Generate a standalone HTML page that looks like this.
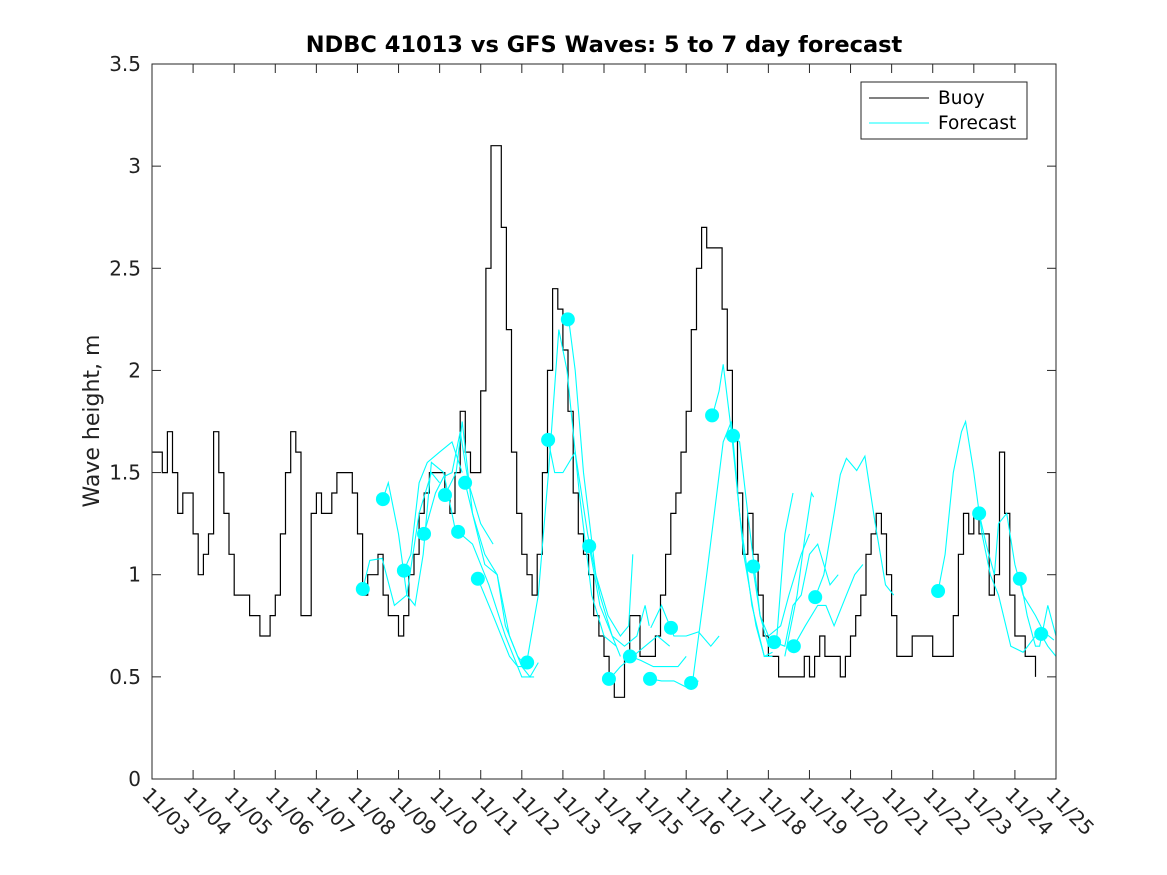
<!DOCTYPE html>
<html><head><meta charset="utf-8"><style>
html,body{margin:0;padding:0;background:#fff}
svg{display:block;font-family:"DejaVu Sans","Liberation Sans",sans-serif}
</style></head><body>
<svg id="chart" width="1167" height="875" viewBox="0 0 1167 875">
<rect x="0" y="0" width="1167" height="875" fill="#fff"/>
<text x="604" y="52" text-anchor="middle" font-size="22.5" font-weight="bold" fill="#000">NDBC 41013 vs GFS Waves: 5 to 7 day forecast</text>
<text transform="translate(99,421) rotate(-90)" text-anchor="middle" font-size="22" fill="#222">Wave height, m</text>
<g id="grid"></g>
<g id="series"></g>
<rect x="152" y="64" width="904" height="715" fill="none" stroke="#262626" stroke-width="1"/>
<g id="legend">
<rect x="861" y="82" width="166" height="57" fill="#fff" stroke="#262626" stroke-width="1"/>
<line x1="869" y1="98" x2="929" y2="98" stroke="#000" stroke-width="1"/>
<text x="938" y="104" font-size="18.5" fill="#000">Buoy</text>
<line x1="869" y1="123" x2="929" y2="123" stroke="#00ffff" stroke-width="1"/>
<text x="938" y="129" font-size="18.5" fill="#000">Forecast</text>
</g>
</svg>
<script>
const xTickLabels = ["11/03","11/04","11/05","11/06","11/07","11/08","11/09","11/10","11/11","11/12","11/13","11/14","11/15","11/16","11/17","11/18","11/19","11/20","11/21","11/22","11/23","11/24","11/25"];
const yTicks = [0,0.5,1,1.5,2,2.5,3,3.5];
const yTickLabels = ["0","0.5","1","1.5","2","2.5","3","3.5"];
const buoyStep = 0.125;
const buoyValues = [1.6,1.6,1.5,1.7,1.5,1.3,1.4,1.4,1.2,1.0,1.1,1.2,1.7,1.5,1.3,1.1,0.9,0.9,0.9,0.8,0.8,0.7,0.7,0.8,0.9,1.2,1.5,1.7,1.6,0.8,0.8,1.3,1.4,1.3,1.3,1.4,1.5,1.5,1.5,1.4,1.2,0.9,1.0,1.0,1.1,0.9,0.8,0.8,0.7,0.8,1.0,1.1,1.3,1.4,1.5,1.5,1.5,1.4,1.3,1.5,1.8,1.6,1.5,1.5,1.9,2.5,3.1,3.1,2.7,2.2,1.6,1.3,1.1,1.0,0.9,1.1,1.5,2.0,2.4,2.3,2.1,1.8,1.4,1.2,1.1,1.0,0.8,0.7,0.6,0.5,0.4,0.4,0.6,0.8,0.8,0.6,0.6,0.6,0.7,0.9,1.1,1.3,1.4,1.6,1.8,2.2,2.5,2.7,2.6,2.6,2.6,2.3,2.0,1.7,1.4,1.1,1.3,1.1,0.9,0.7,0.6,0.6,0.5,0.5,0.5,0.5,0.5,0.6,0.5,0.6,0.7,0.6,0.6,0.6,0.5,0.6,0.7,0.8,0.9,1.1,1.2,1.3,1.2,1.0,0.8,0.6,0.6,0.6,0.7,0.7,0.7,0.7,0.6,0.6,0.6,0.6,0.8,1.1,1.3,1.2,1.3,1.2,1.2,0.9,1.0,1.6,1.3,0.9,0.7,0.7,0.6,0.6,0.5];
const dotDays = [5.13,5.62,6.13,6.62,7.13,7.62,7.45,7.93,9.13,9.64,10.12,10.64,11.12,11.63,12.12,12.63,13.12,13.63,14.14,14.63,15.14,15.62,16.14,19.13,20.13,21.12,21.64];
const dotValues = [0.93,1.37,1.02,1.2,1.39,1.45,1.21,0.98,0.57,1.66,2.25,1.14,0.49,0.6,0.49,0.74,0.47,1.78,1.68,1.04,0.67,0.65,0.89,0.92,1.3,0.98,0.71];
const forecastRuns = [
 [[5.13,0.93],[5.3,1.07],[5.6,1.08],[5.9,0.85],[6.2,0.9],[6.5,1.3],[6.8,1.5],[7.0,1.45]],
 [[5.62,1.37],[5.75,1.45],[6.0,1.2],[6.2,0.9],[6.4,0.85],[6.6,1.1],[6.8,1.55],[7.1,1.5],[7.4,1.2]],
 [[6.13,1.02],[6.3,1.1],[6.5,1.45],[6.7,1.55],[7.0,1.6],[7.3,1.65],[7.55,1.5]],
 [[6.62,1.2],[6.9,1.4],[7.1,1.48],[7.3,1.5],[7.5,1.7],[7.7,1.45],[8.0,1.25],[8.3,1.15]],
 [[7.13,1.39],[7.4,1.5],[7.55,1.75],[7.8,1.3],[8.1,1.1],[8.4,1.0],[8.6,0.75],[8.9,0.6],[9.1,0.55]],
 [[7.62,1.45],[7.8,1.3],[8.1,1.05],[8.4,1.0],[8.7,0.7],[9.0,0.55],[9.2,0.5],[9.4,0.57]],
 [[7.45,1.21],[7.8,1.15],[8.2,0.95],[8.6,0.7],[9.0,0.5],[9.3,0.5]],
 [[7.93,0.98],[8.3,0.8],[8.7,0.6],[8.9,0.55],[9.2,0.55]],
 [[9.12,0.57],[9.4,0.9],[9.65,1.5],[9.9,2.2],[10.1,2.0],[10.4,1.4],[10.7,0.9],[11.0,0.7],[11.3,0.65]],
 [[9.64,1.66],[9.8,1.5],[10.0,1.5],[10.3,1.6],[10.6,1.2],[10.9,0.9],[11.2,0.7],[11.4,0.6]],
 [[10.14,2.25],[10.3,2.0],[10.5,1.5],[10.8,1.0],[11.1,0.8],[11.4,0.7],[11.6,0.75],[11.7,1.1]],
 [[10.64,1.14],[10.9,0.85],[11.2,0.7],[11.5,0.65],[11.8,0.7],[12.0,0.85],[12.1,0.75]],
 [[11.14,0.49],[11.4,0.55],[11.7,0.6],[12.0,0.65],[12.3,0.7],[12.6,0.65]],
 [[11.64,0.6],[11.9,0.58],[12.2,0.55],[12.5,0.55],[12.8,0.55],[13.0,0.6]],
 [[12.14,0.49],[12.4,0.48],[12.7,0.48],[13.0,0.45],[13.3,0.48]],
 [[12.14,0.74],[12.4,0.85],[12.7,0.7],[13.0,0.7],[13.3,0.72],[13.6,0.65],[13.8,0.7]],
 [[13.14,0.45],[13.5,1.0],[13.9,1.65],[14.1,1.75],[14.3,1.3],[14.6,0.85],[14.9,0.6],[15.1,0.62]],
 [[13.64,1.78],[13.8,1.9],[13.9,2.03],[14.1,1.7],[14.4,1.1],[14.7,0.75],[14.9,0.6],[15.1,0.6]],
 [[14.13,1.68],[14.3,1.65],[14.5,1.3],[14.8,0.8],[15.0,0.65],[15.2,0.68],[15.4,1.2],[15.6,1.4]],
 [[14.62,1.04],[14.8,0.8],[15.0,0.7],[15.3,0.75],[15.5,0.9],[15.8,1.1],[16.0,1.2]],
 [[15.14,0.67],[15.4,0.65],[15.6,0.85],[15.8,0.9],[16.0,1.1],[16.2,1.15],[16.5,0.95],[16.7,1.0]],
 [[15.62,0.65],[15.9,0.75],[16.2,0.85],[16.4,0.85],[16.6,0.75],[16.9,0.9],[17.1,1.0],[17.3,1.05]],
 [[16.14,0.89],[16.35,1.0],[16.6,1.3],[16.75,1.49],[16.9,1.57],[17.15,1.51],[17.35,1.58],[17.6,1.25],[17.85,0.95],[18.05,0.9]],
 [[15.4,0.6],[15.7,0.9],[15.9,1.2],[16.05,1.4],[16.1,1.38]],
 [[19.13,0.92],[19.3,1.1],[19.5,1.5],[19.7,1.7],[19.8,1.75],[20.0,1.5],[20.2,1.2],[20.4,1.0],[20.6,0.9],[20.9,0.65],[21.2,0.62],[21.5,0.7]],
 [[20.13,1.3],[20.3,1.15],[20.5,1.0],[20.6,1.25],[20.8,1.3],[21.0,1.05],[21.2,0.9],[21.5,0.8],[21.7,0.72],[21.95,0.68]],
 [[21.13,0.98],[21.3,0.8],[21.5,0.65],[21.6,0.65],[21.8,0.85],[22.0,0.7]],
 [[21.63,0.71],[21.8,0.65],[22.0,0.6]]
];

const NS = "http://www.w3.org/2000/svg";
const X0 = 152, X1 = 1056, Y0 = 779, Y1 = 64;
const xs = d => X0 + d * (X1 - X0) / 22;
const ys = v => Y0 - v * (Y0 - Y1) / 3.5;
const grid = document.getElementById('grid');
const series = document.getElementById('series');
function mk(tag, attrs, parent) {
  const el = document.createElementNS(NS, tag);
  for (const k in attrs) el.setAttribute(k, attrs[k]);
  parent.appendChild(el);
  return el;
}
xTickLabels.forEach((lab, i) => {
  const x = xs(i);
  const t1 = mk('line', {x1: x, y1: Y0, x2: x, y2: Y0 - 9, stroke: '#262626'}, grid);
  
  
  const t2 = mk('line', {x1: x, y1: Y1, x2: x, y2: Y1 + 9, stroke: '#262626'}, grid);
  
  
  const tx = mk('text', {transform: `translate(${x - 11},${796}) rotate(45)`, 'font-size': 20, fill: '#222'}, grid);
  tx.textContent = lab;
  
  
});
yTicks.forEach((v, i) => {
  const y = ys(v);
  const t1 = mk('line', {x1: X0, y1: y, x2: X0 + 9, y2: y, stroke: '#262626'}, grid);
  
  
  const t2 = mk('line', {x1: X1, y1: y, x2: X1 - 9, y2: y, stroke: '#262626'}, grid);
  
  
  const tx = mk('text', {x: X0 - 11, y: y + 7, 'text-anchor': 'end', 'font-size': 20, fill: '#222'}, grid);
  tx.textContent = yTickLabels[i];
  
  
});
// buoy line (stairs)
let d = `M${xs(0).toFixed(1)},${ys(buoyValues[0]).toFixed(1)}`;
for (let i = 1; i < buoyValues.length; i++) {
  d += ` H${xs(i * buoyStep).toFixed(1)} V${ys(buoyValues[i]).toFixed(1)}`;
}
const bl = mk('path', {d: d, fill: 'none', stroke: '#000', 'stroke-width': 1.2}, series);


// forecast runs
forecastRuns.forEach(run => {
  const pts = run.map(p => `${xs(p[0]).toFixed(1)},${ys(p[1]).toFixed(1)}`).join(' ');
  const fl = mk('polyline', {points: pts, fill: 'none', stroke: '#00ffff', 'stroke-width': 1.1}, series);
  
  
});
dotDays.forEach((dd, i) => {
  const c = mk('circle', {cx: xs(dd), cy: ys(dotValues[i]), r: 7, fill: '#00ffff'}, series);
  
  
});
</script>
</body></html>
